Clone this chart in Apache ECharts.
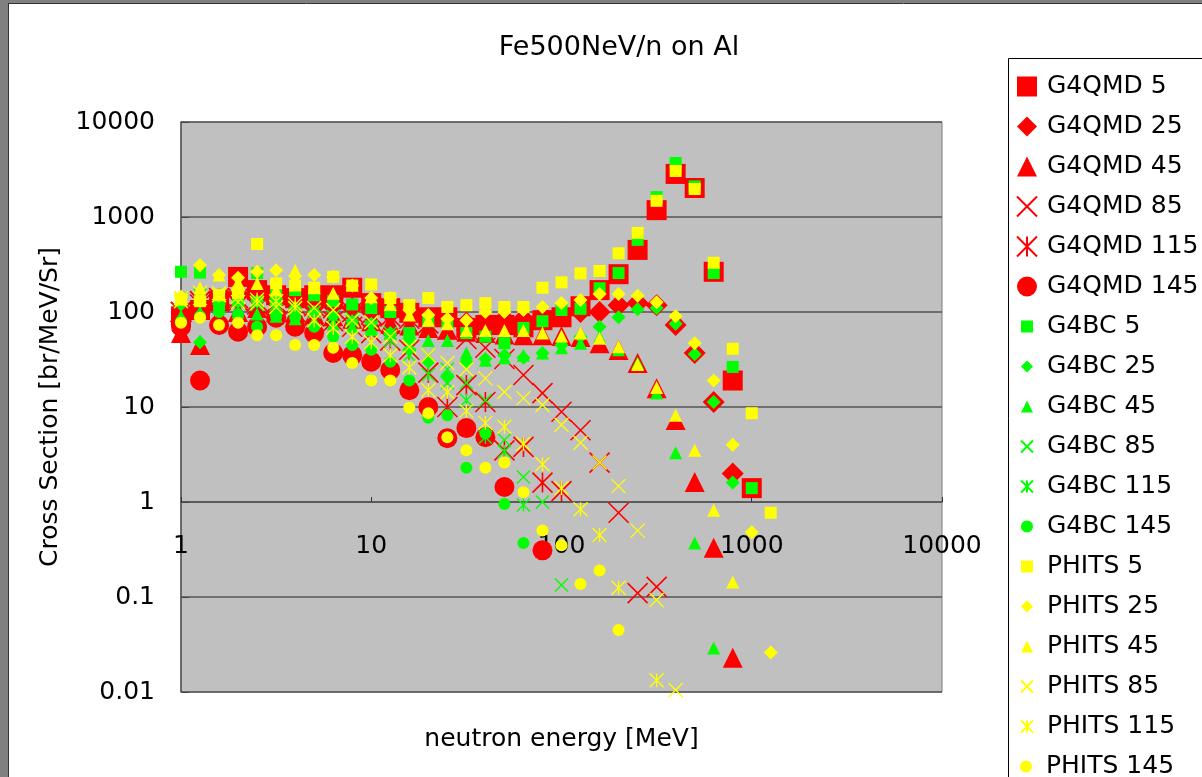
<!DOCTYPE html>
<html><head><meta charset="utf-8">
<script src="https://cdn.jsdelivr.net/npm/echarts@6/dist/echarts.min.js"></script>
<style>html,body{margin:0;padding:0;background:#fff;}#c{width:1202px;height:777px;}</style>
</head><body><div id="c"></div>
<script>
// Energy grid (MeV)
const energies = [1, 1.259, 1.585, 1.995, 2.512, 3.162, 3.981, 5.012, 6.310, 7.943, 10, 12.59, 15.85, 19.95, 25.12, 31.62, 39.81, 50.12, 63.10, 79.43, 100, 125.9, 158.5, 199.5, 251.2, 316.2, 398.1, 501.2, 631.0, 794.3, 1000, 1259, 1585];
const xTickLabels = ['1', '10', '100', '1000', '10000'];
const yTickLabels = ['0.01', '0.1', '1', '10', '100', '1000', '10000'];

const G4QMD_5   = [90, 105, 130, 234, 170, 150, 140, 150, 150, 180, 124, 110, 98, 88, 88, 68, 73, 73, 69, 82, 88, 115, 170, 250, 450, 1180, 2840, 2020, 265, 19, 1.4];
const G4QMD_25  = [80, 110, 120, 150, 140, 130, 125, 120, 115, 110, 100, 95, 90, 85, 80, 77, 80, 85, 85, 90, 95, 100, 100, 118, 124, 118, 73, 37, 11.3, 2.0];
const G4QMD_45  = [60, 45, 90, 100, 110, 100, 100, 95, 90, 85, 80, 75, 72, 68, 65, 62, 60, 58, 57, 57, 56, 54.6, 47, 39.8, 29, 15.8, 7.3, 1.62, 0.33, 0.023];
const G4QMD_85  = [100, 120, 130, 140, 130, 125, 120, 115, 110, 100, 95, 90, 85, 76, 65, 52, 42, 32, 21.7, 14, 8.9, 5.7, 2.6, 0.77, 0.11, 0.128];
const G4QMD_115 = [100, 130, 140, 130, 120, 110, 100, 90, 80, 70, 60, 50, 40, 23, 10, 17, 11.3, 3.5, 3.8, 1.6, 1.3];
const G4QMD_145 = [70, 19, 73, 62, 70, 87, 70, 60, 37, 35, 30, 24.5, 15, 10, 4.7, 6, 4.8, 1.44, null, 0.31];
const G4BC_5    = [265, 260, 120, 130, 257, 150, 170, 150, 130, 120, 110, 100, 60, 80, 75, 60, 55, 47, 68, 80, 105, 108, 178, 257, 575, 1620, 3700, 2100, 257, 26.4, 1.4];
const G4BC_25   = [120, 48, 130, 150, 130, 120, 110, 100, 90, 80, 75, 60, 40, 30, 20.6, 30, 32, 35, 33, 37, 45, 55, 70, 88, 107, 110, 75, 36, 11.3, 1.6];
const G4BC_45   = [90, 100, 110, 100, 95, 90, 85, 80, 75, 70, 65, 60, 55, 50, 50, 37, 31, 33, 35, 37, 42, 47, 55, 40, 29, 14, 3.3, 0.37, 0.029];
const G4BC_85   = [130, 140, 140, 130, 120, 110, 110, 100, 90, 85, 78, 60, 45, 35, 25, 18, 11.8, 4.5, 1.83, 1.0, 0.134];
const G4BC_115  = [140, 150, 150, 140, 130, 120, 110, 100, 90, 80, 70, 50, 35, 22, 18, 11.8, 4.8, 3.4, 0.93];
const G4BC_145  = [80, 90, 100, 95, 70, 90, 88, 70, 55, 45, 40, 30, 19, 7.7, 8.2, 2.3, 5.3, 0.95, 0.37];
const PHITS_5   = [135, 130, 150, 160, 520, 200, 190, 180, 235, 190, 195, 140, 118, 140, 113, 118, 124, 113, 113, 180, 205, 255, 270, 415, 680, 1480, 3050, 1970, 330, 41, 8.6, 0.77];
const PHITS_25  = [145, 310, 245, 230, 265, 275, 240, 245, 235, 190, 140, 140, 105, 93, 85, 82, 100, 100, 105, 113, 124, 134, 155, 155, 148, 127, 90, 47, 19, 4.0, 0.48, 0.026];
const PHITS_45  = [145, 180, 245, 205, 200, 170, 275, 180, 158, 192, 145, 120, 93, 82, 75, 64, 64, 64, 64, 60, 56, 60, 53, 43, 28, 16, 8.2, 3.5, 0.82, 0.144];
const PHITS_85  = [130, 140, 158, 127, 124, 113, 110, 110, 105, 82, 78, 55, 43, 35, 29, 25, 20, 14.4, 12.4, 10.5, 6.5, 4.2, 2.6, 1.47, 0.5, 0.093, 0.0105];
const PHITS_115 = [140, 160, 150, 145, 135, 130, 120, 82, 68, 55, 48, 35, 26, 15, 14.4, 9.1, 6.8, 6.2, 4.1, 2.5, 1.4, 0.84, 0.45, 0.125, null, 0.0133];
const PHITS_145 = [77, 87, 73, 77, 57, 57, 45, 45, 42, 29, 19, 19, 9.8, 8.6, 4.8, 3.5, 2.3, 2.6, 1.27, 0.5, 0.35, 0.137, 0.19, 0.045];

const RED = '#FF0000', GREEN = '#00FF00', YELLOW = '#FFFF00';
const X_PATH = 'path://M0,0L10,10M10,0L0,10';
const AST_PATH = 'path://M0,0L10,10M10,0L0,10M5,0L5,10';
const FONT = 'DejaVu Sans';

function pairs(vals) {
  const out = [];
  vals.forEach((v, i) => { if (v !== null && v !== undefined) out.push([energies[i], v]); });
  return out;
}
function ser(name, vals, symbol, color, size, stroke) {
  return {
    name: name, type: 'scatter', data: pairs(vals), symbol: symbol, symbolSize: size,
    clip: false, animation: false,
    itemStyle: stroke ? { color: 'rgba(0,0,0,0)', borderColor: color, borderWidth: stroke, opacity: 1 }
                      : { color: color, opacity: 1, borderWidth: 0 },
    emphasis: { disabled: true }
  };
}
const series = [
  ser('G4QMD 5', G4QMD_5, 'rect', RED, 20),
  ser('G4QMD 25', G4QMD_25, 'diamond', RED, 22),
  ser('G4QMD 45', G4QMD_45, 'triangle', RED, 20),
  ser('G4QMD 85', G4QMD_85, X_PATH, RED, 20, 1.6),
  ser('G4QMD 115', G4QMD_115, AST_PATH, RED, 20, 1.6),
  ser('G4QMD 145', G4QMD_145, 'circle', RED, 20),
  ser('G4BC 5', G4BC_5, 'rect', GREEN, 12),
  ser('G4BC 25', G4BC_25, 'diamond', GREEN, 14),
  ser('G4BC 45', G4BC_45, 'triangle', GREEN, 13),
  ser('G4BC 85', G4BC_85, X_PATH, GREEN, 13, 1.3),
  ser('G4BC 115', G4BC_115, AST_PATH, GREEN, 13, 1.3),
  ser('G4BC 145', G4BC_145, 'circle', GREEN, 12),
  ser('PHITS 5', PHITS_5, 'rect', YELLOW, 12),
  ser('PHITS 25', PHITS_25, 'diamond', YELLOW, 14),
  ser('PHITS 45', PHITS_45, 'triangle', YELLOW, 13),
  ser('PHITS 85', PHITS_85, X_PATH, YELLOW, 14, 1.3),
  ser('PHITS 115', PHITS_115, AST_PATH, YELLOW, 14, 1.3),
  ser('PHITS 145', PHITS_145, 'circle', YELLOW, 12)
];
const names = series.map(s => s.name);
function leg(data, top, left, w, padLeft) {
  return { data: data, orient: 'vertical', left: left, top: top, padding: 0, itemGap: 15,
    itemWidth: w, itemHeight: w,
    textStyle: { fontFamily: FONT, fontSize: 25, color: '#000', padding: [0, 0, 0, padLeft] },
    selectedMode: false };
}

const chart = echarts.init(document.getElementById('c'), null, { renderer: 'canvas' });
chart.setOption({
  backgroundColor: '#fff',
  animation: false,
  title: { text: 'Fe500NeV/n on Al', left: 614, top: 29, textAlign: 'center',
    textStyle: { fontFamily: FONT, fontSize: 27, fontWeight: 'normal', color: '#000' } },
  graphic: [
    { type: 'rect', shape: { x: 0, y: 0, width: 8, height: 777 }, style: { fill: '#808080' }, z: 100 },
    { type: 'rect', shape: { x: 0, y: 0, width: 1202, height: 3 }, style: { fill: '#808080' }, z: 100 },
    { type: 'line', shape: { x1: 8.5, y1: 3, x2: 8.5, y2: 777 }, style: { stroke: '#333', lineWidth: 1 }, z: 100 },
    { type: 'line', shape: { x1: 8, y1: 3.5, x2: 1202, y2: 3.5 }, style: { stroke: '#333', lineWidth: 1 }, z: 100 },
    { type: 'rect', shape: { x: 1008.5, y: 58.5, width: 300, height: 800 }, style: { fill: '#fff', stroke: '#000', lineWidth: 1 }, z: -1 }
  ],
  legend: [
    leg(names.slice(0, 6), 74, 1016, 20, 5),
    leg(names.slice(6, 12), 314, 1020, 12, 9),
    leg(names.slice(12, 17), 554, 1020, 12, 9),
    leg(names.slice(17, 18), 754, 1020, 12, 9)
  ],
  grid: { left: 181, top: 122, width: 761, height: 570, show: true, backgroundColor: '#C0C0C0', borderColor: '#7a7a7a', borderWidth: 1 },
  xAxis: {
    type: 'log', logBase: 10, min: 1, max: 10000, offset: -190,
    name: 'neutron energy [MeV]', nameLocation: 'middle', nameGap: 225,
    nameTextStyle: { fontFamily: FONT, fontSize: 25, color: '#000' },
    axisLine: { show: true, lineStyle: { color: '#555', width: 1.5 } },
    axisTick: { show: true, inside: true, length: 5, lineStyle: { color: '#333' } },
    axisLabel: { margin: 32, fontFamily: FONT, fontSize: 25, color: '#000', showMinLabel: true, showMaxLabel: true,
      formatter: v => { const i = Math.round(Math.log10(v)); return xTickLabels[i] !== undefined ? xTickLabels[i] : ''; } },
    splitLine: { show: false }, minorTick: { show: false }
  },
  yAxis: {
    type: 'log', logBase: 10, min: 0.01, max: 10000,
    name: 'Cross Section [br/MeV/Sr]', nameLocation: 'middle', nameGap: 118,
    nameTextStyle: { fontFamily: FONT, fontSize: 25, color: '#000' },
    axisLine: { show: true, lineStyle: { color: '#555', width: 1.5 } },
    axisTick: { show: true, inside: true, length: 8, lineStyle: { color: '#444' } },
    axisLabel: { margin: 26, fontFamily: FONT, fontSize: 25, color: '#000', showMinLabel: true, showMaxLabel: true,
      formatter: v => { const i = Math.round(Math.log10(v)) + 2; return yTickLabels[i] !== undefined ? yTickLabels[i] : ''; } },
    splitLine: { show: true, lineStyle: { color: '#555', width: 1.5 } }, minorTick: { show: false }
  },
  series: series
});
</script></body></html>
